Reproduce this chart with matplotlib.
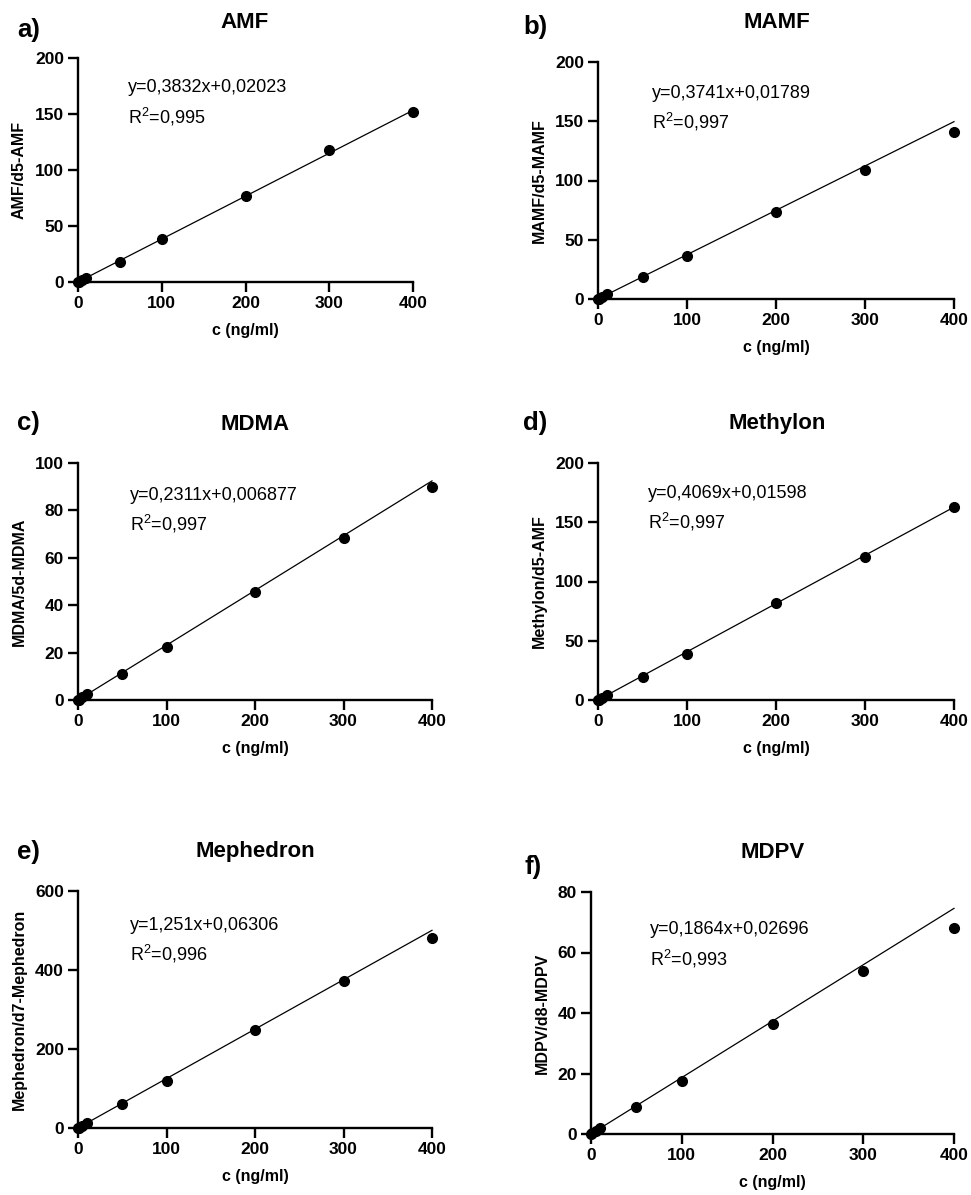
import matplotlib
matplotlib.use("Agg")
import matplotlib.pyplot as plt
import numpy as np

plt.rcParams['font.family'] = ['Liberation Sans', 'DejaVu Sans']
plt.rcParams['mathtext.fontset'] = 'custom'
plt.rcParams['mathtext.rm'] = 'Liberation Sans'

W, H = 971, 1195

# calibration levels (ng/ml)
conc = [0, 1, 5, 10, 50, 100, 200, 300, 400]

names = ["AMF", "MAMF", "MDMA", "Methylon", "Mephedron", "MDPV"]
letters = ["a)", "b)", "c)", "d)", "e)", "f)"]
ylabels = ["AMF/d5-AMF", "MAMF/d5-MAMF", "MDMA/5d-MDMA",
           "Methylon/d5-AMF", "Mephedron/d7-Mephedron", "MDPV/d8-MDPV"]

# area ratios read per level
ratio_amf = [0, 0.4, 1.9, 4.0, 17.5, 38.2, 76.8, 117.5, 151.8]
ratio_mamf = [0, 0.4, 1.9, 4.2, 18.2, 36.0, 73.8, 109.0, 141.3]
ratio_mdma = [0, 0.2, 1.2, 2.5, 11.0, 22.2, 45.6, 68.2, 90.0]
ratio_methylon = [0, 0.4, 2.0, 4.2, 19.6, 38.5, 82.0, 120.3, 163.0]
ratio_mephedron = [0, 1.2, 6.3, 13.5, 61.5, 119.0, 248.0, 373.0, 480.0]
ratio_mdpv = [0, 0.2, 0.9, 1.9, 8.8, 17.4, 36.3, 54.0, 68.2]
ratios = [ratio_amf, ratio_mamf, ratio_mdma, ratio_methylon,
          ratio_mephedron, ratio_mdpv]

# linear fits as reported
slopes = [0.3832, 0.3741, 0.2311, 0.4069, 1.251, 0.1864]
intercepts = [0.02023, 0.01789, 0.006877, 0.01598, 0.06306, 0.02696]
slope_txt = ["0,3832", "0,3741", "0,2311", "0,4069", "1,251", "0,1864"]
icpt_txt = ["0,02023", "0,01789", "0,006877", "0,01598", "0,06306", "0,02696"]
r2_txt = ["0,995", "0,997", "0,997", "0,997", "0,996", "0,993"]

ymax = [200, 200, 100, 200, 600, 80]
ystep = [50, 50, 20, 50, 200, 20]

# axes boxes in pixels: left, right, top, bottom
boxes = [(78, 413, 58, 282), (598, 954, 62, 299),
         (78, 432, 463, 700), (598, 954, 463, 700),
         (78, 432, 891, 1128), (591, 954, 892, 1134)]
title_pos = [(245, 22), (777, 23), (255, 425), (777, 423), (255, 852), (773, 853)]
letter_pos = [(17, 30), (523, 27), (17, 423), (523, 423), (17, 852), (524, 867)]
eq_pos = [(128, 88), (652, 93), (130, 495), (648, 493), (130, 925), (650, 930)]


def fx(px):
    return px / W


def fy(py):
    return 1 - py / H


fig = plt.figure(figsize=(W / 100, H / 100), dpi=100)

for i in range(6):
    l, r, t, b = boxes[i]
    ax = fig.add_axes([fx(l), fy(b), (r - l) / W, (b - t) / H])
    x = np.array(conc)
    ax.plot(x, ratios[i], 'o', color='black', markersize=7, clip_on=False, zorder=3)
    xf = np.array([0, 400])
    ax.plot(xf, slopes[i] * xf + intercepts[i], color='black', lw=0.9, clip_on=False)

    ax.set_xlim(0, 400)
    ax.set_ylim(0, ymax[i])
    ax.set_xticks(range(0, 401, 100))
    ax.set_yticks(range(0, ymax[i] + 1, ystep[i]))
    for s in ['top', 'right']:
        ax.spines[s].set_visible(False)
    for s in ['left', 'bottom']:
        ax.spines[s].set_linewidth(1.7)
    ax.tick_params(width=1.7, length=7, labelsize=12.5, pad=3)
    for lab in ax.get_xticklabels() + ax.get_yticklabels():
        lab.set_fontweight('bold')
    ax.set_xlabel("c (ng/ml)", fontsize=11.5, fontweight='bold', labelpad=9)
    ax.set_ylabel(ylabels[i], fontsize=11.5, fontweight='bold', labelpad=6)

    tx, ty = title_pos[i]
    fig.text(fx(tx), fy(ty), names[i], ha='center', va='center',
             fontsize=16, fontweight='bold')
    lx, ly = letter_pos[i]
    fig.text(fx(lx), fy(ly), letters[i], ha='left', va='center',
             fontsize=18.5, fontweight='bold')
    ex, ey = eq_pos[i]
    fig.text(fx(ex), fy(ey), f"y={slope_txt[i]}x+{icpt_txt[i]}",
             ha='left', va='center', fontsize=13)
    fig.text(fx(ex), fy(ey + 29), f"R$^2$={r2_txt[i]}",
             ha='left', va='center', fontsize=13)

fig.savefig("out.png", dpi=100)
